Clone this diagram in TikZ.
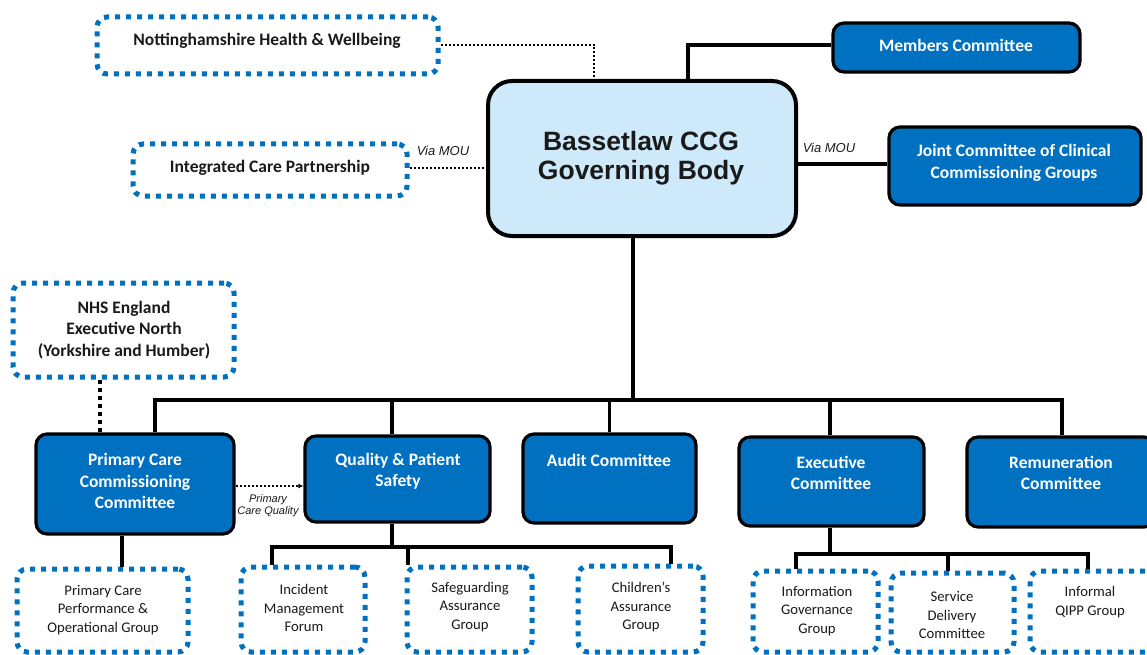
\documentclass[tikz,border=0pt]{standalone}
\usepackage{fontspec}
\setmainfont{Carlito}
\newfontfamily\arialf{Liberation Sans}
\usetikzlibrary{arrows.meta}
\definecolor{cblue}{HTML}{0070C0}
\definecolor{clight}{HTML}{CDE9FA}
\definecolor{ctxt}{HTML}{1A1A1A}
\tikzset{
 bluebox/.style={draw=black,line width=3.2pt,fill=cblue,rounded corners=11pt,inner sep=0pt},
 gbbox/.style={draw=black,line width=4pt,fill=clight,rounded corners=24pt,inner sep=0pt},
 dotbox/.style={draw=cblue,line width=5pt,dash pattern=on 5pt off 6pt,rounded corners=10pt,inner sep=0pt,fill=white},
 wt/.style={text=white,font=\bfseries\fontsize{17.5}{21.5}\selectfont,align=center,inner sep=0pt},
 dt/.style={text=ctxt,font=\bfseries\fontsize{17.5}{21.5}\selectfont,align=center,inner sep=0pt},
 st/.style={text=ctxt,font=\fontsize{14.7}{18.5}\selectfont,align=center,inner sep=0pt},
 gt/.style={text=ctxt,font=\arialf\bfseries\fontsize{26.5}{29}\selectfont,align=center,inner sep=0pt},
 conn/.style={draw=black,line width=3.5pt},
 thconn/.style={draw=black,line width=4.5pt},
 dconn/.style={draw=black,line width=2.5pt,dash pattern=on 2pt off 2pt},
 tdconn/.style={draw=black,line width=4.5pt,dash pattern=on 4pt off 4pt},
 lab/.style={text=ctxt,font=\arialf\itshape\fontsize{13}{15}\selectfont,inner sep=0pt},
 slab/.style={text=ctxt,font=\arialf\itshape\fontsize{11}{12}\selectfont,align=center,inner sep=0pt},
}
\begin{document}
\begin{tikzpicture}[x=1pt,y=-1pt]
\useasboundingbox[fill=white] (0,0) rectangle (1147,655);

% ---- boxes ----
\node[dotbox,minimum width=341pt,minimum height=57pt] (nott) at (267.5,45.5) {};
\node[dotbox,minimum width=274pt,minimum height=52pt] (icp) at (270,170) {};
\node[gbbox,minimum width=308pt,minimum height=155pt] (gb) at (642,158.5) {};
\node[bluebox,minimum width=247pt,minimum height=49pt] (mem) at (956.5,47.5) {};
\node[bluebox,minimum width=252pt,minimum height=78pt] (joint) at (1015,166) {};
\node[dotbox,minimum width=221pt,minimum height=94pt] (nhs) at (123.5,330) {};
\node[bluebox,minimum width=198pt,minimum height=100pt] (pccc) at (135,484) {};
\node[bluebox,minimum width=185pt,minimum height=86pt] (qps) at (397.5,479) {};
\node[bluebox,minimum width=173pt,minimum height=89pt] (audit) at (609.5,478.5) {};
\node[bluebox,minimum width=185pt,minimum height=89pt] (exec) at (831.5,481.5) {};
\node[bluebox,minimum width=188pt,minimum height=90pt] (remun) at (1061,482) {};
\node[dotbox,minimum width=171pt,minimum height=83pt] (pcpog) at (102.5,610.5) {};
\node[dotbox,minimum width=124pt,minimum height=85pt] (inc) at (303,609.5) {};
\node[dotbox,minimum width=125pt,minimum height=85pt] (safe) at (469.5,609.5) {};
\node[dotbox,minimum width=125pt,minimum height=86pt] (child) at (640.5,609) {};
\node[dotbox,minimum width=125pt,minimum height=81pt] (igov) at (815.5,611.5) {};
\node[dotbox,minimum width=123pt,minimum height=79pt] (sdel) at (952.5,612.5) {};
\node[dotbox,minimum width=125pt,minimum height=81pt] (qipp) at (1092.5,611.5) {};

% ---- texts ----
\node[dt] (nott-t) at (267,41) {Nottinghamshire Health \& Wellbeing};
\node[dt] (icp-t) at (270,168) {Integrated Care Partnership};
\node[gt] (gb-t) at (641,158) {Bassetlaw CCG\\Governing Body};
\node[wt] (mem-t) at (956,45) {Members Committee};
\node[wt] (joint-t) at (1014,163) {Joint Committee of Clinical\\Commissioning Groups};
\node[dt] (nhs-t) at (124,330) {NHS England\\Executive North\\(Yorkshire and Humber)};
\node[wt] (pccc-t) at (135,481) {Primary Care\\Commissioning\\Committee};
\node[wt] (qps-t) at (398,471) {Quality \& Patient\\Safety};
\node[wt] (audit-t) at (609,460) {Audit Committee};
\node[wt] (exec-t) at (831,473) {Executive\\Committee};
\node[wt] (remun-t) at (1061,473) {Remuneration\\Committee};
\node[st] (pcpog-t) at (103,610) {Primary Care\\Performance \&\\Operational Group};
\node[st] (inc-t) at (304,608) {Incident\\Management\\Forum};
\node[st] (safe-t) at (470,607) {Safeguarding\\Assurance\\Group};
\node[st] (child-t) at (641,607) {Children's\\Assurance\\Group};
\node[st] (igov-t) at (817,611) {Information\\Governance\\Group};
\node[st] (sdel-t) at (952,615) {Service\\Delivery\\Committee};
\node[st] (qipp-t) at (1090,602) {Informal\\QIPP Group};

% ---- labels ----
\node[lab] (mou1) at (443,151) {Via MOU};
\node[lab] (mou2) at (829,148) {Via MOU};
\node[slab] (pcq) at (268,506) {Primary\\Care Quality};

% ---- connectors ----
\draw[dconn] (nott.east |- 0,45) -| ([xshift=-48pt]gb.north);
\draw[dconn] (icp.east |- 0,168) -- (gb.west |- 0,168);
\draw[thconn] ([xshift=46pt]gb.north) |- (mem.west |- 0,45);
\draw[thconn] (gb.east |- 0,164) -- (joint.west |- 0,164);

\coordinate (j0) at (633,400);
\draw[conn] (j0 |- gb.south) -- (j0);
\draw[conn] ([xshift=20pt]pccc.north) |- (j0) -| ([xshift=1pt]remun.north);
\draw[conn] ([xshift=-5.5pt]qps.north) -- ([xshift=-5.5pt]qps.north |- j0);
\draw[conn] (audit.north) -- (audit.north |- j0);
\draw[conn] ([xshift=-1.5pt]exec.north) -- ([xshift=-1.5pt]exec.north |- j0);

\draw[tdconn] ([xshift=-23.5pt]nhs.south) -- ([xshift=-23.5pt]nhs.south |- pccc.north);
\draw[dconn,-{Latex[length=5pt,width=5pt]}] (pccc.east |- 0,486) -- (qps.west |- 0,486);
\draw[conn] ([xshift=19.5pt]pcpog.north) -- ([xshift=19.5pt]pcpog.north |- pccc.south);

\coordinate (j1) at (392,547);
\draw[conn] ([xshift=-5.5pt]qps.south) -- (j1);
\draw[conn] ([xshift=-31pt]inc.north) |- (j1) -| ([xshift=30.5pt]child.north);
\draw[conn] ([xshift=-61.5pt]safe.north) -- ([xshift=-61.5pt]safe.north |- j1);

\coordinate (j2) at (830,554);
\draw[conn] ([xshift=-1.5pt]exec.south) -- (j2);
\draw[conn] ([xshift=-19.5pt]igov.north) |- (j2) -| ([xshift=-4.5pt]qipp.north);
\draw[conn] ([xshift=-4.5pt]sdel.north) -- ([xshift=-4.5pt]sdel.north |- j2);
\end{tikzpicture}
\end{document}
